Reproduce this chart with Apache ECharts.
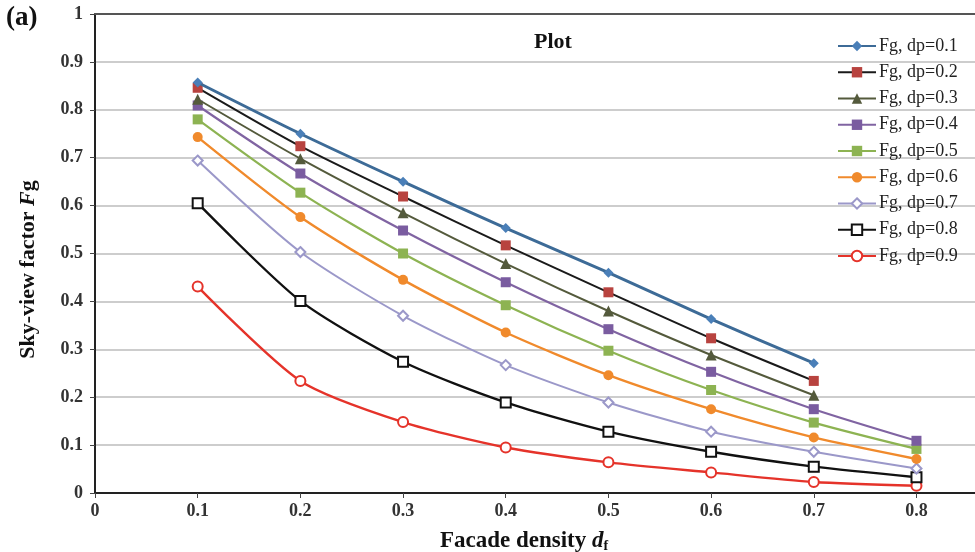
<!DOCTYPE html>
<html>
<head>
<meta charset="utf-8">
<title>Sky-view factor</title>
<script src="https://cdn.jsdelivr.net/npm/echarts@6/dist/echarts.min.js"></script>
<style>
  html, body { margin: 0; padding: 0; background: #fff; }
  #main { width: 975px; height: 552px; }
</style>
</head>
<body>
<div id="main"></div>
<script>
var echarts = window.echarts;

// facade density d_f (x axis)
var densities = [0.1, 0.2, 0.3, 0.4, 0.5, 0.6, 0.7, 0.8];
var seriesNames = ['Fg, dp=0.1', 'Fg, dp=0.2', 'Fg, dp=0.3', 'Fg, dp=0.4', 'Fg, dp=0.5',
                   'Fg, dp=0.6', 'Fg, dp=0.7', 'Fg, dp=0.8', 'Fg, dp=0.9'];
// sky-view factor Fg, one array per dp
var fgDp01 = [0.857, 0.750, 0.650, 0.553, 0.460, 0.363, 0.271];
var fgDp02 = [0.846, 0.724, 0.619, 0.517, 0.419, 0.323, 0.234];
var fgDp03 = [0.822, 0.698, 0.585, 0.479, 0.380, 0.288, 0.204];
var fgDp04 = [0.809, 0.667, 0.548, 0.440, 0.342, 0.253, 0.175, 0.109];
var fgDp05 = [0.780, 0.627, 0.500, 0.392, 0.297, 0.215, 0.147, 0.092];
var fgDp06 = [0.743, 0.576, 0.445, 0.335, 0.246, 0.175, 0.116, 0.071];
var fgDp07 = [0.694, 0.503, 0.370, 0.267, 0.189, 0.128, 0.086, 0.051];
var fgDp08 = [0.605, 0.401, 0.274, 0.189, 0.128, 0.086, 0.055, 0.033];
var fgDp09 = [0.431, 0.234, 0.148, 0.095, 0.064, 0.043, 0.023, 0.015];
var yTicks = [0, 0.1, 0.2, 0.3, 0.4, 0.5, 0.6, 0.7, 0.8, 0.9, 1];
var xMax = 0.857;

var values = [fgDp01, fgDp02, fgDp03, fgDp04, fgDp05, fgDp06, fgDp07, fgDp08, fgDp09];
// line colour, marker colour, marker shape, line width
var looks = [
  ['#3d6b97', '#4a7fb8', 'diamond', 3],
  ['#1a1a1a', '#b8433f', 'rect', 2],
  ['#545a3c', '#545a3c', 'triangle', 2],
  ['#8064a2', '#7a5ca0', 'rect', 2.2],
  ['#8db352', '#8db352', 'rect', 2.2],
  ['#f08a2c', '#f08a2c', 'circle', 2.4],
  ['#9b98c9', '#9b98c9', 'emptyDiamond', 2],
  ['#111111', '#111111', 'emptyRect', 2.4],
  ['#e5332a', '#e5332a', 'emptyCircle', 2.4]
];

var serif = '"Liberation Serif", "DejaVu Serif", serif';

var series = values.map(function(arr, i) {
  var lk = looks[i];
  return {
    name: seriesNames[i],
    type: 'line',
    smooth: 0.25,
    symbol: lk[2],
    symbolSize: lk[2] === 'triangle' ? 11 : 10,
    lineStyle: { color: lk[0], width: lk[3] },
    itemStyle: { color: lk[1], borderWidth: 1.8 },
    data: arr.map(function(v, k) { return [densities[k], v]; }),
    z: 10 - i
  };
});

var chart = echarts.init(document.getElementById('main'));
chart.setOption({
  animation: false,
  backgroundColor: '#fff',
  title: {
    text: 'Plot',
    left: 529, top: 26,
    textStyle: { fontFamily: serif, fontSize: 22, fontWeight: 'bold', color: '#111' }
  },
  legend: {
    orient: 'vertical',
    left: 832, top: 32,
    itemWidth: 38, itemHeight: 13, itemGap: 8.25,
    textStyle: { fontFamily: serif, fontSize: 18, color: '#222', lineHeight: 18, padding: [0, 0, 0, -2] },
    data: seriesNames
  },
  graphic: [{
    type: 'text', left: 6, top: 5,
    style: { text: '(a)', font: 'bold 27px ' + serif, fill: '#111' }
  }],
  grid: { left: 95, top: 14, right: 0, bottom: 59, outerBoundsMode: 'none' },
  xAxis: [{
    type: 'value',
    min: 0, max: xMax, interval: 0.1,
    name: '{b|Facade density }{i|d}{s|f}',
    nameLocation: 'middle', nameGap: 36,
    nameTextStyle: {
      padding: [0, 22, 0, 0],
      rich: {
        b: { fontFamily: serif, fontSize: 23, fontWeight: 'bold', color: '#111' },
        i: { fontFamily: serif, fontSize: 23, fontWeight: 'bold', fontStyle: 'italic', color: '#111' },
        s: { fontFamily: serif, fontSize: 14, fontWeight: 'bold', color: '#111', padding: [10, 0, 0, 0] }
      }
    },
    axisLine: { lineStyle: { color: '#222', width: 2 } },
    axisTick: { length: 5, lineStyle: { color: '#444' } },
    axisLabel: { showMaxLabel: false, margin: 9, fontFamily: serif, fontSize: 18, fontWeight: 'bold', color: '#333' },
    splitLine: { show: false }
  }, {
    // top frame line only
    type: 'value', position: 'top',
    min: 0, max: xMax, interval: 0.1,
    axisLine: { show: true, lineStyle: { color: '#555', width: 2 } },
    axisTick: { show: false },
    axisLabel: { show: false },
    splitLine: { show: false }
  }],
  yAxis: {
    type: 'value',
    min: yTicks[0], max: yTicks[yTicks.length - 1], interval: 0.1,
    name: '{b|Sky-view factor }{i|F}{b|g}',
    nameLocation: 'middle', nameGap: 56,
    nameTextStyle: {
      padding: [0, 32, 0, 0],
      rich: {
        b: { fontFamily: serif, fontSize: 22, fontWeight: 'bold', color: '#111' },
        i: { fontFamily: serif, fontSize: 22, fontWeight: 'bold', fontStyle: 'italic', color: '#111' }
      }
    },
    axisLine: { show: true, lineStyle: { color: '#222', width: 2 } },
    axisTick: { show: true, length: 5, lineStyle: { color: '#444' } },
    axisLabel: { margin: 12, fontFamily: serif, fontSize: 18, fontWeight: 'bold', color: '#333' },
    splitLine: { lineStyle: { color: '#bdbdbd', width: 1.5 } }
  },
  series: series
});
</script>
</body>
</html>
